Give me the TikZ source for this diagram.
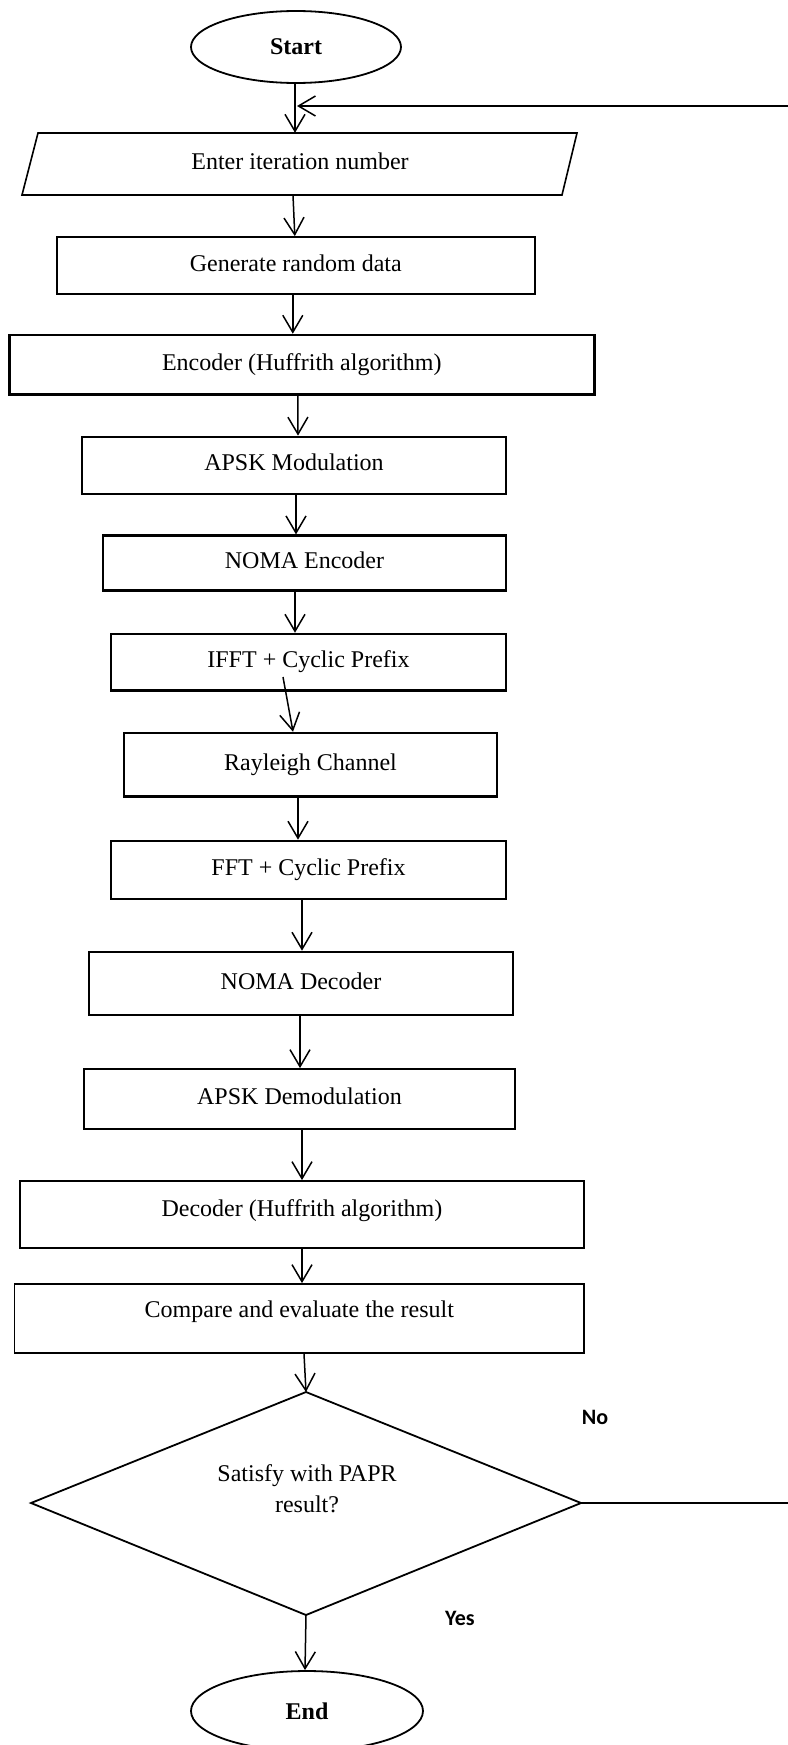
\documentclass[tikz,border=0pt]{standalone}
\usepackage{fontspec}
\setmainfont{Liberation Serif}
\newfontfamily\labelfont{Carlito}
\usetikzlibrary{arrows.meta,shapes.geometric}
\begin{document}
\begin{tikzpicture}[x=1pt,y=-1pt,
  every node/.style={font=\fontsize{24}{30}\selectfont},
  flow/.style={line width=1.5pt,-{Straight Barb[length=17pt,width=20pt]}},
  procbox/.style={draw,line width=1.8pt,inner sep=0pt,text height=16pt,text depth=5pt},
  heavy/.style={procbox,line width=2.6pt},
  terminal/.style={draw,ellipse,line width=1.8pt,inner sep=0pt,font=\fontsize{24}{30}\selectfont\bfseries},
  outline/.style={line width=1.8pt,line join=miter},
  answer/.style={font=\labelfont\fontsize{22}{26}\selectfont\bfseries}
]
\useasboundingbox (0,0) rectangle (787,1745);

% start / input
\node[terminal,minimum width=210pt,minimum height=72pt] (start) at (296,47) {Start};
\node[inner sep=0pt,minimum width=540pt,minimum height=62pt,text height=16pt,text depth=5pt] (input) at (300,164) {Enter iteration number};
\draw[outline,line width=1.6pt] (38,133) -- (577,133) -- (562,195) -- (22,195) -- cycle;

% processing chain
\node[procbox,minimum width=478pt,minimum height=57pt] (gen) at (295.8,265.5) {Generate random data};
\node[heavy,minimum width=585pt,minimum height=59.5pt] (enc) at (301.8,364.8) {Encoder (Huffrith algorithm)};
\node[heavy,minimum width=424pt,minimum height=57pt] (mod) at (294,465.4) {APSK Modulation};
\node[heavy,minimum width=403pt,minimum height=55pt] (nenc) at (304.5,563.2) {NOMA Encoder};
\node[heavy,minimum width=395pt,minimum height=56.7pt] (ifft) at (308.5,662.4) {IFFT + Cyclic Prefix};
\node[heavy,minimum width=373pt,minimum height=63.7pt] (chan) at (310.5,764.9) {Rayleigh Channel};
\node[heavy,minimum width=395pt,minimum height=58pt] (fft) at (308.5,870) {FFT + Cyclic Prefix};
\node[heavy,minimum width=424pt,minimum height=63pt] (ndec) at (301,983.5) {NOMA Decoder};
\node[procbox,minimum width=431pt,minimum height=60pt] (demod) at (299.5,1099) {APSK Demodulation};
\node[procbox,minimum width=564pt,minimum height=67pt,text depth=11.6pt] (dec) at (302,1214.5) {Decoder (Huffrith algorithm)};
\node[procbox,minimum width=569.5pt,minimum height=69pt,text depth=17.6pt] (cmp) at (299.3,1318.5) {Compare and evaluate the result};

% decision
\coordinate (dtop) at (306,1392);
\coordinate (dleft) at (31,1503);
\coordinate (dright) at (581,1503);
\coordinate (dbot) at (306,1615);
\draw[outline] (dtop) -- (dright) -- (dbot) -- (dleft) -- cycle;
\node[anchor=base] (ask1) at (307,1481.7) {Satisfy with PAPR};
\node[anchor=base] (ask2) at (307,1512) {result?};

\node[terminal,minimum width=232pt,minimum height=80pt] (end) at (307,1711) {End};

\node[answer] (no) at (595,1417) {No};
\node[answer] (yes) at (460,1618) {Yes};

% connectors
\draw[flow] ([xshift=-1pt]start.south) -- ([xshift=-5pt]input.north);
\draw[flow] ([xshift=-7pt]input.south) -- ([xshift=-1pt]gen.north);
\draw[flow] ([xshift=-3pt]gen.south) -- ([xshift=-9pt]enc.north);
\draw[flow] ([xshift=-4pt]enc.south) -- ([xshift=4pt]mod.north);
\draw[flow] ([xshift=2pt]mod.south) -- ([xshift=-8.5pt]nenc.north);
\draw[flow] ([xshift=-9.5pt]nenc.south) -- ([xshift=-13.5pt]ifft.north);
\draw[flow] ([xshift=-25.5pt,yshift=-14.6pt]ifft.center) -- ([xshift=-17.5pt]chan.north);
\draw[flow] ([xshift=-12.5pt]chan.south) -- ([xshift=-10.5pt]fft.north);
\draw[flow] ([xshift=-6.5pt]fft.south) -- ([xshift=1pt]ndec.north);
\draw[flow] ([xshift=-1pt]ndec.south) -- ([xshift=0.5pt]demod.north);
\draw[flow] ([xshift=2.5pt]demod.south) -- (dec.north);
\draw[flow] (dec.south) -- ([xshift=2.7pt]cmp.north);
\draw[flow] ([xshift=4.7pt]cmp.south) -- (dtop);
\draw[flow] (dbot) -- ([xshift=-2pt]end.north);

% "No" branch loops back to the input step
\coordinate (loopa) at (800,1503);
\coordinate (loopb) at (800,106);
\coordinate (loopin) at (297,106);
\draw[flow] (dright) -- (loopa) -- (loopb) -- (loopin);
\end{tikzpicture}
\end{document}
